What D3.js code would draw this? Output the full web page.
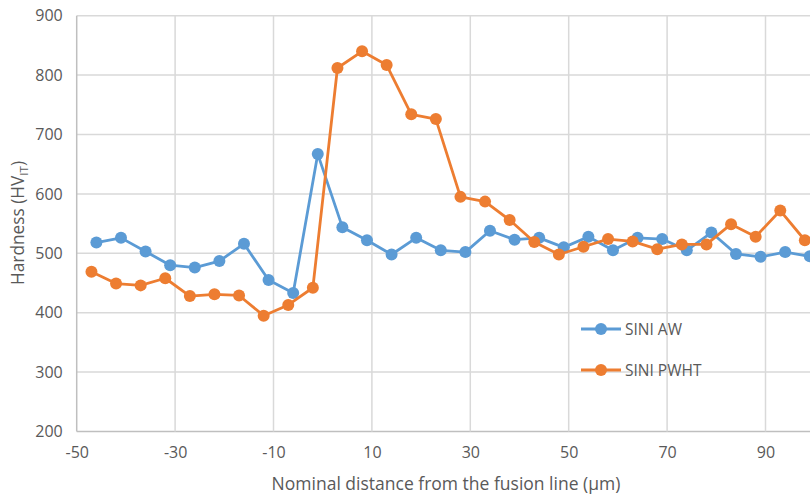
<!DOCTYPE html>
<html><head><meta charset="utf-8">
<script src="https://cdn.jsdelivr.net/npm/d3@7"></script>
<style>body{margin:0;background:#fff;overflow:hidden}svg{display:block}</style>
</head><body>
<svg id="c" width="810" height="499"></svg>
<script>
const awX = [-46,-41,-36,-31,-26,-21,-16,-11,-6,-1,4,9,14,19,24,29,34,39,44,49,54,59,64,69,74,79,84,89,94,99];
const awY = [518,526,503,480,476,487,516,455,433,667,544,522,498,526,505,502,538,523,526,510,528,505,526,524,505,535,499,494,502,495];
const pwX = [-47,-42,-37,-32,-27,-22,-17,-12,-7,-2,3,8,13,18,23,28,33,38,43,48,53,58,63,68,73,78,83,88,93,98];
const pwY = [469,449,446,458,428,431,429,395,413,442,812,840,817,734,726,595,587,556,519,498,511,524,520,507,515,515,549,528,572,522];
const xTicks = [-50,-30,-10,10,30,50,70,90];
const yTicks = [200,300,400,500,600,700,800,900];
const seriesNames = ["SINI AW","SINI PWHT"];
const colors = ["#5B9BD5","#ED7D31"];

const font = "'Open Sans', sans-serif";
const svg = d3.select("#c");
const x = d3.scaleLinear().domain([-50,110]).range([76.7, 76.7+160*4.92]);
const y = d3.scaleLinear().domain([200,900]).range([431.5, 15.7]);

const g = svg.append("g");
g.selectAll(".gy").data(yTicks).join("line")
  .attr("x1", x(-50)).attr("x2", 830).attr("y1", d=>y(d)).attr("y2", d=>y(d))
  .attr("stroke", d=> d===200 ? "#bfbfbf" : "#d9d9d9").attr("stroke-width", 1.5);
g.selectAll(".gx").data(xTicks).join("line")
  .attr("x1", d=>x(d)).attr("x2", d=>x(d)).attr("y1", y(900)).attr("y2", y(200))
  .attr("stroke", d=> d===-50 ? "#bfbfbf" : "#d9d9d9").attr("stroke-width", 1.5);

const fmt = d => String(d);
const yAxis = d3.axisLeft(y).tickValues(yTicks).tickFormat(fmt).tickSize(0).tickPadding(14);
const ya = svg.append("g").attr("transform",`translate(${x(-50)},0)`).call(yAxis);
ya.select(".domain").remove();
ya.selectAll("text").attr("fill","#595959").style("font-family",font).style("font-size","16px");

const xAxis = d3.axisBottom(x).tickValues(xTicks).tickFormat(fmt).tickSize(0).tickPadding(15);
const xa = svg.append("g").attr("transform",`translate(0,${y(200)})`).call(xAxis);
xa.select(".domain").remove();
xa.selectAll("text").attr("fill","#595959").style("font-family",font).style("font-size","16px");

svg.append("text").attr("x",446).attr("y",490).attr("text-anchor","middle")
  .attr("fill","#595959").style("font-family",font).style("font-size","17.5px")
  .text("Nominal distance from the fusion line (µm)");

const yl = svg.append("text").attr("transform","translate(24,223) rotate(-90)")
  .attr("text-anchor","middle").attr("fill","#595959").style("font-family",font).style("font-size","17.3px");
yl.append("tspan").text("Hardness (HV");
yl.append("tspan").attr("dy",4).style("font-size","11.5px").text("IT");
yl.append("tspan").attr("dy",-4).text(")");

const data = [awX.map((d,i)=>[d,awY[i]]), pwX.map((d,i)=>[d,pwY[i]])];
const line = d3.line().x(d=>x(d[0])).y(d=>y(d[1]));
data.forEach((s,i)=>{
  svg.append("path").datum(s).attr("d",line).attr("fill","none")
    .attr("stroke",colors[i]).attr("stroke-width",2.8).attr("stroke-linejoin","round");
  svg.append("g").selectAll("circle").data(s).join("circle")
    .attr("cx",d=>x(d[0])).attr("cy",d=>y(d[1])).attr("r",6).attr("fill",colors[i]);
});

const lg = svg.append("g");
seriesNames.forEach((n,i)=>{
  const ly = 329 + i*41;
  lg.append("line").attr("x1",581).attr("x2",621).attr("y1",ly).attr("y2",ly)
    .attr("stroke",colors[i]).attr("stroke-width",2.8);
  lg.append("circle").attr("cx",601).attr("cy",ly).attr("r",6).attr("fill",colors[i]);
  lg.append("text").attr("x",625).attr("y",ly+5.5).attr("fill","#595959")
    .style("font-family",font).style("font-size","15.5px").text(n);
});
</script>
</body></html>
